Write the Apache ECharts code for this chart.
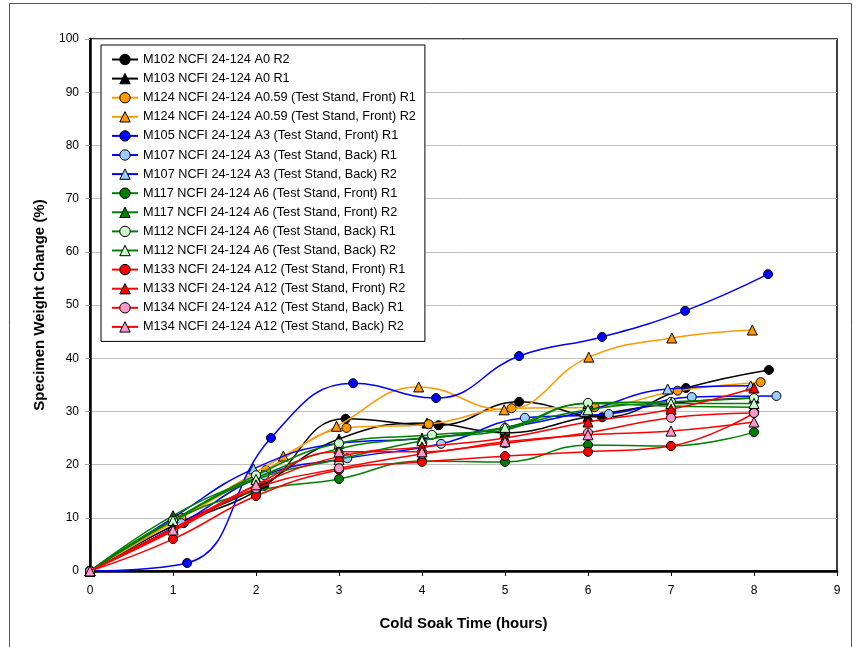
<!DOCTYPE html>
<html>
<head>
<meta charset="utf-8">
<script src="https://cdn.jsdelivr.net/npm/echarts@6/dist/echarts.min.js"></script>
<style>
  html, body { margin: 0; padding: 0; background: #fff; }
  #chart { width: 859px; height: 647px; }
</style>
</head>
<body>
<div id="chart"></div>
<script>
// legend names, in the order they appear
const seriesNames = [
  'M102 NCFI 24-124 A0 R2',
  'M103 NCFI 24-124 A0 R1',
  'M124 NCFI 24-124 A0.59 (Test Stand, Front) R1',
  'M124 NCFI 24-124 A0.59 (Test Stand, Front) R2',
  'M105 NCFI 24-124 A3 (Test Stand, Front) R1',
  'M107 NCFI 24-124 A3 (Test Stand, Back) R1',
  'M107 NCFI 24-124 A3 (Test Stand, Back) R2',
  'M117 NCFI 24-124 A6 (Test Stand, Front) R1',
  'M117 NCFI 24-124 A6 (Test Stand, Front) R2',
  'M112 NCFI 24-124 A6 (Test Stand, Back) R1',
  'M112 NCFI 24-124 A6 (Test Stand, Back) R2',
  'M133 NCFI 24-124 A12 (Test Stand, Front) R1',
  'M133 NCFI 24-124 A12 (Test Stand, Front) R2',
  'M134 NCFI 24-124 A12 (Test Stand, Back) R1',
  'M134 NCFI 24-124 A12 (Test Stand, Back) R2'
]

// [hours, weight change %]
const m102r2 = [[0, 0], [1.13, 9.0], [2.1, 16.0], [3.08, 28.6], [4.2, 27.4], [5.17, 31.8], [6.17, 28.9], [7.18, 34.4], [8.18, 37.8]]
const m103r1 = [[0, 0], [1.0, 8.5], [2.0, 15.5], [3.0, 24.8], [4.06, 27.8], [5.0, 26.0], [6.0, 29.0], [7.0, 31.5], [8.0, 32.5]]
const m124r1 = [[0, 0], [1.1, 10.0], [2.12, 19.0], [3.09, 26.9], [4.08, 27.6], [5.08, 30.6], [6.08, 30.8], [7.08, 33.9], [8.08, 35.5]]
const m124r2 = [[0, 0], [1.05, 9.8], [2.33, 21.6], [2.97, 27.2], [3.96, 34.6], [4.99, 30.3], [6.01, 40.2], [7.01, 43.8], [7.98, 45.3]]
const m105r1 = [[0, 0], [1.17, 1.5], [2.18, 25.0], [3.17, 35.3], [4.17, 32.5], [5.17, 40.4], [6.17, 44.0], [7.17, 48.9], [8.17, 55.8]]
const m107r1 = [[0, 0], [1.1, 9.0], [2.1, 18.0], [3.1, 21.2], [4.23, 23.9], [5.24, 28.8], [6.25, 29.5], [7.25, 32.7], [8.27, 32.9]]
const m107r2 = [[0, 0], [1.0, 10.0], [1.97, 19.2], [3.0, 24.0], [4.0, 24.9], [5.0, 26.9], [5.96, 30.0], [6.96, 34.2], [7.96, 34.8]]
const m117r1 = [[0, 0], [1.0, 9.5], [2.0, 15.0], [3.0, 17.3], [4.0, 20.7], [5.0, 20.5], [6.0, 23.7], [7.0, 23.5], [8.0, 26.1]]
const m117r2 = [[0, 0], [1.0, 10.4], [2.0, 17.5], [3.0, 23.0], [4.0, 25.0], [5.0, 26.5], [6.0, 31.5], [7.0, 31.0], [8.0, 30.8]]
const m112r1 = [[0, 0], [1.0, 9.5], [2.0, 18.0], [3.0, 24.0], [4.12, 25.6], [5.0, 26.9], [6.0, 31.6], [7.0, 31.8], [8.0, 32.5]]
const m112r2 = [[0, 0], [1.0, 9.5], [2.0, 17.2], [3.0, 21.0], [4.0, 24.5], [5.0, 27.0], [6.0, 30.3], [7.0, 31.5], [8.0, 31.5]]
const m133r1 = [[0, 0], [1.0, 6.0], [2.0, 14.1], [3.0, 19.0], [4.0, 20.5], [5.0, 21.6], [6.0, 22.4], [7.0, 23.5], [8.0, 29.7]]
const m133r2 = [[0, 0], [1.0, 8.0], [2.0, 16.0], [3.0, 21.5], [4.0, 23.3], [5.0, 25.0], [6.0, 28.0], [7.0, 30.4], [8.0, 34.4]]
const m134r1 = [[0, 0], [1.0, 7.5], [2.0, 15.5], [3.0, 19.3], [4.0, 22.0], [5.0, 24.0], [6.0, 26.0], [7.0, 28.8], [8.0, 29.7]]
const m134r2 = [[0, 0], [1.0, 7.7], [2.0, 16.2], [3.0, 22.4], [4.0, 22.4], [5.0, 24.3], [6.0, 25.6], [7.0, 26.3], [8.0, 28.0]]

const seriesData = [m102r2, m103r1, m124r1, m124r2, m105r1, m107r1, m107r2,
  m117r1, m117r2, m112r1, m112r2, m133r1, m133r2, m134r1, m134r2]

// styles
const lineColors = ['#000000', '#000000', '#FF9900', '#FF9900', '#0000FF', '#0000FF', '#0000FF',
  '#008000', '#008000', '#008000', '#008000', '#FF0000', '#FF0000', '#FF0000', '#FF0000']
const fillColors = ['#000000', '#000000', '#FF9900', '#FF9900', '#0000FF', '#99CCFF', '#99CCFF',
  '#008000', '#008000', '#CCFFCC', '#CCFFCC', '#FF0000', '#FF0000', '#FF99CC', '#FF99CC']
const symbols = ['circle', 'triangle', 'circle', 'triangle', 'circle', 'circle', 'triangle',
  'circle', 'triangle', 'circle', 'triangle', 'circle', 'triangle', 'circle', 'triangle']

const chart = echarts.init(document.getElementById('chart'))
const font = 'Arial, "Liberation Sans", sans-serif'

chart.setOption({
  animation: false,
  backgroundColor: '#fff',
  textStyle: { fontFamily: font },
  graphic: [{
    type: 'rect',
    shape: { x: 9.5, y: 3.5, width: 842, height: 700 },
    style: { fill: 'none', stroke: '#555', lineWidth: 1 },
    silent: true,
    z: -10
  }],
  grid: {
    left: 90,
    top: 39,
    right: 22,
    bottom: 76,
    show: true,
    borderColor: '#000',
    borderWidth: 1.5
  },
  legend: {
    orient: 'vertical',
    left: 101,
    top: 45,
    padding: [8, 9, 8, 10],
    itemWidth: 26,
    itemHeight: 13,
    itemGap: 6.1,
    backgroundColor: '#fff',
    borderColor: '#000',
    borderWidth: 1,
    textStyle: { fontSize: 12.7, color: '#000', fontFamily: font },
    data: seriesNames.map((n, i) => ({
      name: n,
      itemStyle: { color: fillColors[i], borderColor: '#000', borderWidth: 1 },
      lineStyle: { color: lineColors[i], width: 2 }
    }))
  },
  xAxis: {
    type: 'value',
    min: 0,
    max: 9,
    interval: 1,
    name: 'Cold Soak Time (hours)',
    nameLocation: 'middle',
    nameGap: 45,
    nameTextStyle: { fontSize: 15, fontWeight: 'bold', color: '#000' },
    axisLine: { show: true, lineStyle: { color: '#000', width: 2.5 } },
    axisTick: { show: true, length: 5, lineStyle: { color: '#000' } },
    axisLabel: { fontSize: 12, color: '#000', margin: 14 },
    splitLine: { show: false }
  },
  yAxis: {
    type: 'value',
    min: 0,
    max: 100,
    interval: 10,
    name: 'Specimen Weight Change (%)',
    nameLocation: 'middle',
    nameGap: 43,
    nameTextStyle: { fontSize: 15, fontWeight: 'bold', color: '#000' },
    axisLine: { show: true, lineStyle: { color: '#000', width: 2.5 } },
    axisTick: { show: true, length: 5, lineStyle: { color: '#aaa' } },
    axisLabel: { fontSize: 12, color: '#000', margin: 11 },
    splitLine: { show: true, lineStyle: { color: '#c0c0c0', width: 1 } }
  },
  series: seriesData.map((d, i) => ({
    name: seriesNames[i],
    type: 'line',
    data: d,
    smooth: 0.45,
    symbol: symbols[i],
    symbolSize: symbols[i] === 'circle' ? 9 : 10,
    lineStyle: { color: lineColors[i], width: 1.5 },
    itemStyle: { color: fillColors[i], borderColor: '#000', borderWidth: 1 },
    z: 2 + i
  }))
})
</script>
</body>
</html>
